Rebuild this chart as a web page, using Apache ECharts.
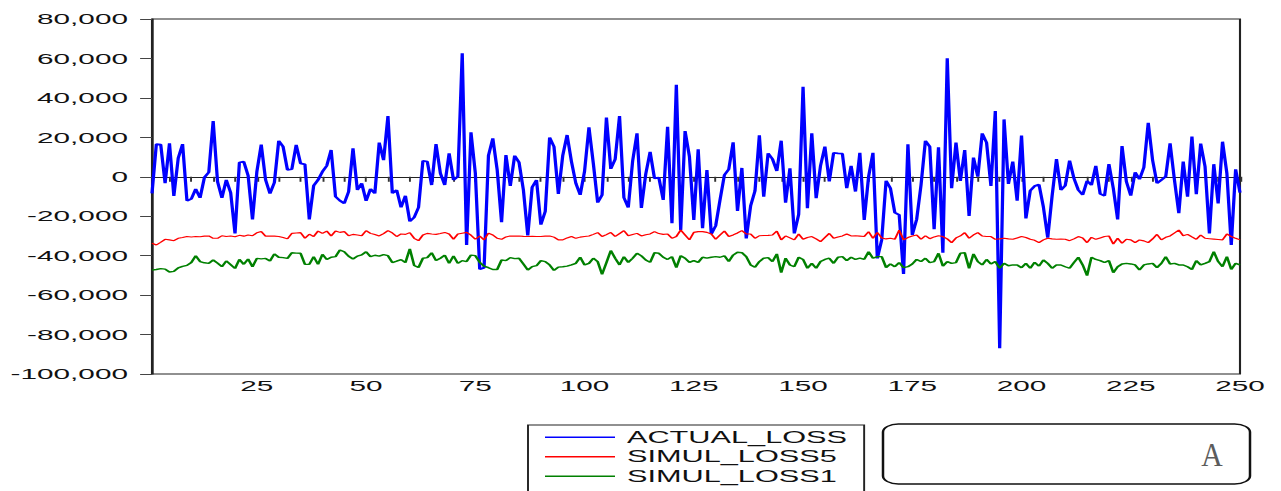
<!DOCTYPE html>
<html>
<head>
<meta charset="utf-8">
<script src="https://cdn.jsdelivr.net/npm/echarts@6/dist/echarts.min.js"></script>
<style>
html,body{margin:0;padding:0;background:#fff;overflow:hidden;}
#main{position:absolute;left:0;top:0;height:491px;transform-origin:0 0;}
</style>
</head>
<body>
<div id="main"></div>
<script>
// ---------------- data ----------------
const seriesNames = ['ACTUAL_LOSS', 'SIMUL_LOSS5', 'SIMUL_LOSS1'];

const actualLoss = [
-8400,16600,16300,-3300,17000,-9700,9400,16600,-12200,-11200,
-6200,-10700,-300,2300,28300,-2500,-10700,-1600,-8000,-28700,
7200,7700,600,-21600,2600,16300,-1600,-8500,-3000,18200,
15300,3500,3800,16200,6800,6300,-21600,-4500,-1600,2600,
5600,13600,-10100,-12100,-13500,-7500,14400,-6700,-3300,-12200,
-6200,-8400,17300,8400,30800,-8400,-6700,-15500,-9600,-22600,
-20600,-15500,8100,7700,-4200,16600,1800,-4200,11900,-1600,
100,62600,-34600,22600,1800,-46900,-46100,10700,19500,3500,
-23000,11000,-4700,10700,7300,-6700,-29700,-5300,-1600,-24300,
-17500,19900,15300,-8700,10700,21200,7700,-3300,-9200,2900,
25100,6800,-13100,-9200,30000,4000,8900,30800,-10600,-15600,
8000,22000,-15800,1400,12600,-800,-400,-11700,25400,-23600,
46700,-27000,23200,10200,-21900,14000,-26100,3400,-29000,-24900,
-11700,900,3800,17500,-17300,4500,-31300,-14800,-7200,21000,
-10100,11900,9000,2900,18300,-13100,4300,-28700,-19100,45700,
-16000,22000,-10900,5600,15300,-2400,12200,11900,11700,-5800,
5600,-7500,12200,-21900,100,12200,-41400,-32000,-2000,-5800,
-18200,-19300,-49300,16500,-29500,-21600,-4200,18200,15300,-26600,
14900,-38500,60100,-5800,17300,-2100,13600,-19900,9700,100,
22000,17300,-4700,33400,-87000,29100,-3600,7700,-12100,20900,
-21100,-7000,-4700,-3900,-15300,-30900,-9700,9000,-6700,-4500,
8200,-800,-6700,-9200,-2100,-4200,5500,-8700,-9600,6500,
-5800,-21600,15600,-2500,-9600,2300,-1300,4800,27400,8400,
-3300,-1600,100,17000,-1600,-18500,7700,-10100,20400,-8900,
16800,5200,-28700,6400,-13500,17800,1700,-34600,3800,-8000
];

const simulLoss5 = [
-33700,-34600,-33200,-31700,-32000,-32400,-31200,-30800,-30300,-30500,
-30300,-30400,-30100,-30000,-31200,-31200,-29900,-30300,-30000,-30400,
-29700,-30100,-29500,-29900,-28400,-27800,-30100,-30000,-30100,-30300,
-30800,-31500,-28700,-28500,-28300,-31200,-29100,-30300,-27500,-28700,
-27500,-30000,-27500,-28200,-27800,-29900,-29200,-29500,-29900,-27300,
-28700,-29300,-30000,-28800,-27300,-28500,-30300,-29000,-29200,-28300,
-31200,-32400,-29500,-28700,-29000,-29200,-28800,-28200,-29000,-31700,
-29000,-28600,-28200,-29600,-31700,-30000,-32000,-28600,-29500,-31200,
-31700,-30500,-30000,-30100,-30000,-30200,-30300,-30200,-30300,-30300,
-30100,-30000,-30600,-32000,-32000,-31000,-30300,-31200,-30600,-30300,
-30000,-29200,-28300,-30300,-29300,-28200,-30300,-28800,-27300,-29900,
-29300,-28700,-30000,-29400,-29000,-27800,-28800,-29200,-29000,-31200,
-30300,-27000,-29500,-32000,-28200,-27800,-27800,-28200,-29000,-31700,
-29500,-27500,-30300,-29500,-28500,-27300,-29000,-29000,-31200,-29900,
-29800,-29700,-29500,-27500,-32000,-30000,-31000,-32000,-29000,-31700,
-30800,-30300,-31500,-32900,-30800,-28700,-31200,-30500,-30000,-29000,
-30000,-29900,-30100,-30300,-27800,-31200,-28200,-31000,-31500,-31200,
-31700,-27000,-32000,-30800,-30000,-29500,-31700,-29900,-31400,-30500,
-29900,-30300,-31500,-33400,-31000,-30000,-28300,-31200,-29500,-28300,
-30000,-30300,-30300,-31700,-31500,-31200,-31500,-31700,-31000,-30300,
-30800,-31700,-32200,-33400,-32000,-31200,-31500,-31700,-31600,-31700,
-32400,-31500,-30300,-31000,-33400,-30700,-31700,-31000,-30300,-30000,
-34100,-31200,-33700,-31700,-32000,-33400,-32000,-32500,-33400,-31500,
-29200,-32000,-30700,-30000,-28500,-27000,-29900,-29200,-30500,-31700,
-29500,-31200,-31400,-31600,-31800,-32000,-29000,-30300,-31200,-32000
];

const simulLoss1 = [
-47300,-47000,-46600,-46800,-48300,-48000,-46200,-45400,-44900,-43500,
-40000,-43000,-43600,-43900,-42200,-43800,-45600,-42700,-44500,-46500,
-41900,-44400,-41700,-45600,-41400,-41600,-41400,-42700,-39100,-40800,
-41000,-41400,-38500,-38700,-38800,-44400,-44400,-40500,-44400,-39300,
-41900,-40800,-40500,-37100,-38000,-40300,-41700,-40200,-39600,-38000,
-40500,-39800,-40200,-39500,-40000,-43500,-42800,-42000,-43500,-36500,
-45000,-46000,-41300,-41000,-38500,-42500,-41300,-39700,-43900,-40100,
-43900,-42500,-43000,-39700,-40000,-43400,-45300,-46100,-47000,-47000,
-42200,-42500,-41000,-41500,-41300,-44200,-47300,-45600,-45100,-42500,
-43000,-44700,-47500,-45800,-45600,-45300,-44700,-43900,-40800,-44700,
-43900,-41300,-43000,-49500,-43500,-37400,-41300,-44700,-40500,-43400,
-41300,-38800,-40100,-42200,-43400,-38500,-38800,-40800,-41900,-40500,
-46100,-40000,-41300,-43400,-42500,-43400,-40800,-41300,-40800,-40500,
-40800,-40100,-43000,-39700,-38300,-38500,-40500,-44700,-45900,-43000,
-41300,-41000,-43000,-39100,-48600,-41300,-44700,-45600,-40800,-41900,
-46400,-43900,-46400,-43000,-41900,-41300,-43900,-40800,-40500,-42500,
-40800,-41900,-41300,-41900,-38000,-41300,-40500,-40500,-46000,-44200,
-45600,-43500,-46100,-45600,-44200,-41900,-43000,-41300,-43500,-43000,
-38800,-45300,-43000,-43900,-43500,-38800,-38500,-46400,-39100,-43000,
-44700,-41900,-44200,-43000,-46400,-43900,-45100,-44700,-44700,-46100,
-43900,-46400,-43400,-45300,-42200,-43900,-46400,-44700,-44700,-45600,
-46400,-43500,-40800,-44700,-50100,-40800,-41900,-42500,-43500,-42500,
-48600,-45600,-44200,-43900,-44200,-44700,-47300,-44700,-44200,-43900,
-46100,-43900,-40500,-44200,-43900,-44700,-44700,-45600,-47000,-42500,
-44700,-43900,-43000,-38000,-43000,-45600,-40500,-47000,-43900,-44700
];

const categories = [];
for (let i = 1; i <= actualLoss.length; i++) categories.push(String(i));

const yTicks = { min: -100000, max: 80000, step: 20000 };
const boxLabel = 'A';

// ---------------- layout ----------------
// The reference picture is horizontally stretched; draw in a narrower
// frame and stretch it with CSS so glyphs and strokes match.
const K = 1.92;
const W = 1281 / K;
const el = document.getElementById('main');
el.style.width = W + 'px';
el.style.transform = 'scaleX(' + K + ')';

const FONT = '"Liberation Sans", Arial, Helvetica, sans-serif';
function fmt(v) {
  return String(v).replace(/\B(?=(\d{3})+(?!\d))/g, ',');
}

const chart = echarts.init(el, null, { renderer: 'svg', width: W, height: 491 });

const option = {
  animation: false,
  backgroundColor: '#ffffff',
  grid: {
    left: 152 / K,
    right: W - 1240 / K,
    top: 19,
    bottom: 491 - 374,
    show: true,
    borderColor: '#222',
    borderWidth: 1.1,
    backgroundColor: 'transparent'
  },
  xAxis: {
    type: 'category',
    data: categories,
    boundaryGap: false,
    axisLine: { show: true, lineStyle: { color: '#222', width: 1.1 } },
    axisTick: {
      show: true,
      length: 5,
      interval: function (idx) { return (idx + 1) % 5 === 0; },
      lineStyle: { color: '#333', width: 1 }
    },
    axisLabel: {
      interval: function (idx) { return (idx + 1) % 25 === 0; },
      margin: 4,
      fontSize: 15.5,
      fontFamily: FONT,
      color: '#111'
    },
    splitLine: { show: false }
  },
  yAxis: {
    type: 'value',
    min: yTicks.min,
    max: yTicks.max,
    interval: yTicks.step,
    axisLine: { show: true, lineStyle: { color: '#222', width: 1.1 } },
    axisTick: { show: true, length: 6.2, lineStyle: { color: '#444', width: 1 } },
    axisLabel: {
      margin: 12.5,
      fontSize: 15.5,
      fontFamily: FONT,
      color: '#111',
      formatter: fmt
    },
    splitLine: { show: false }
  },
  legend: {
    orient: 'vertical',
    left: 528 / K,
    top: 425,
    height: 140,
    data: seriesNames,
    icon: 'rect',
    itemWidth: 70 / K,
    itemHeight: 1.3,
    itemGap: 0,
    padding: [2.5, 17 / K, 40, 17 / K],
    backgroundColor: '#ffffff',
    borderColor: '#222',
    borderWidth: 1,
    borderRadius: 0,
    textStyle: { fontSize: 16, fontFamily: FONT, color: '#111', lineHeight: 19.5, padding: [0, 0, 0, 1.2] }
  },
  graphic: [
    {
      type: 'rect',
      z: 50,
      shape: { x: 883 / K, y: 424, width: (1250 - 883) / K, height: 60, r: 8 },
      style: { fill: '#ffffff', stroke: '#111', lineWidth: 1.3 }
    },
    {
      type: 'text',
      z: 51,
      x: 1212 / K,
      y: 455,
      scaleX: 0.47,
      style: {
        text: boxLabel,
        fontSize: 33,
        fontFamily: '"Liberation Serif", "Times New Roman", serif',
        fill: '#5c5c5c',
        align: 'center',
        verticalAlign: 'middle',
        textAlign: 'center',
        textVerticalAlign: 'middle'
      }
    }
  ],
  series: [
    {
      name: seriesNames[0], type: 'line', data: actualLoss,
      symbol: 'none', showSymbol: false,
      lineStyle: { color: '#0000ff', width: 1.7 }, itemStyle: { color: '#0000ff' }
    },
    {
      name: seriesNames[1], type: 'line', data: simulLoss5,
      symbol: 'none', showSymbol: false,
      lineStyle: { color: '#ff0000', width: 1.1 }, itemStyle: { color: '#ff0000' }
    },
    {
      name: seriesNames[2], type: 'line', data: simulLoss1,
      symbol: 'none', showSymbol: false,
      lineStyle: { color: '#008000', width: 1.4 }, itemStyle: { color: '#008000' }
    }
  ]
};
chart.setOption(option);
</script>
</body>
</html>
